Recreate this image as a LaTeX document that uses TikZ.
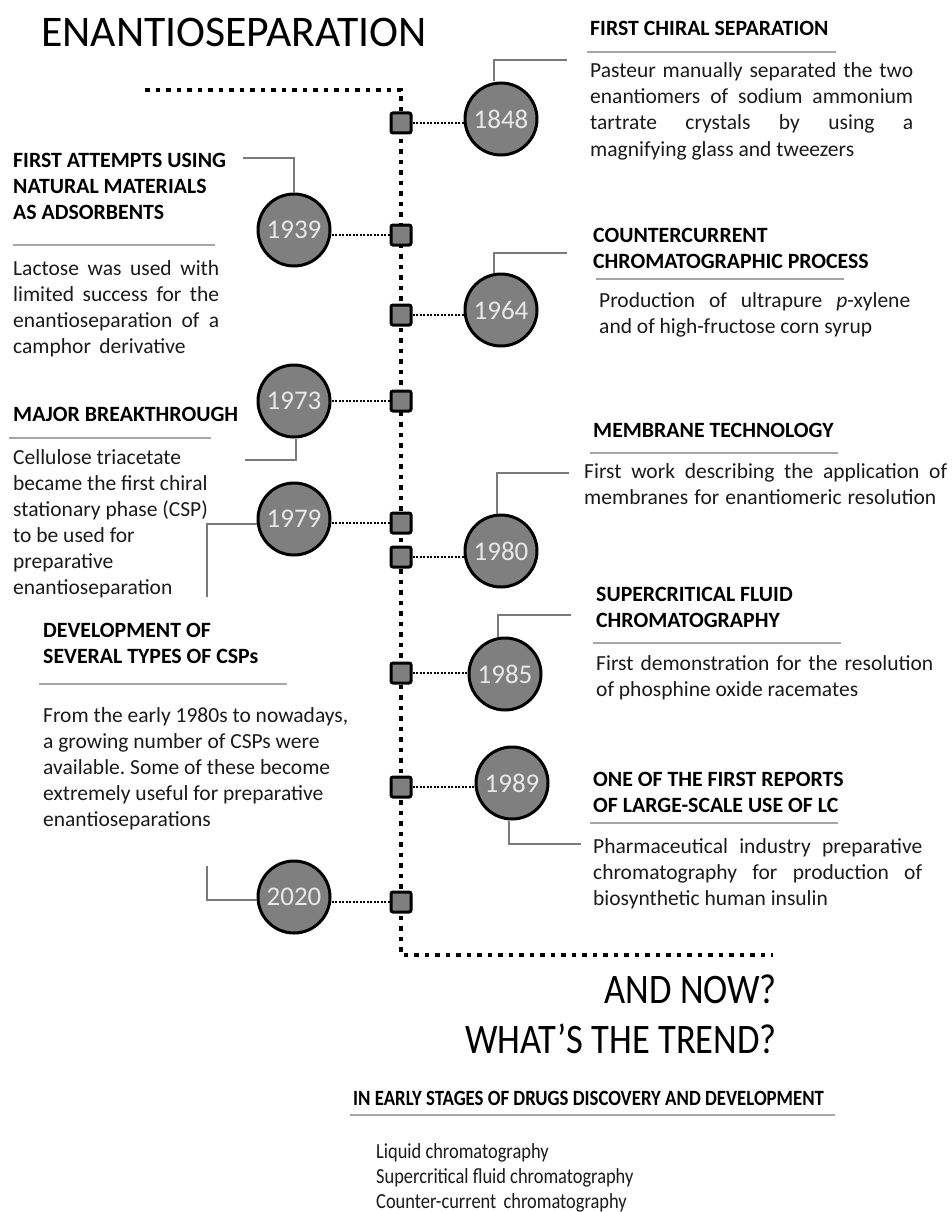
\documentclass[tikz,border=0pt]{standalone}
\usepackage{fontspec}
\setmainfont{Carlito}
\usepackage{graphicx}
\definecolor{yeargray}{HTML}{7F7F7F}
\definecolor{yeartext}{HTML}{E8E8E8}
\definecolor{calloutgray}{HTML}{7A7A7A}
\definecolor{rulegray}{HTML}{A6A6A6}
\definecolor{bodytext}{HTML}{1A1A1A}
\begin{document}
\begin{tikzpicture}[x=1pt,y=-1pt,
  spine/.style={line width=4.5pt, dash pattern=on 4.5pt off 6pt, black},
  dotlink/.style={line width=2pt, dash pattern=on 2pt off 1.5pt, black},
  yearc/.style={circle, draw=black, line width=3pt, fill=yeargray, minimum size=72pt, inner sep=0pt, text=yeartext, font=\fontsize{27}{30}\selectfont},
  marker/.style={rectangle, draw=black, line width=3pt, fill=yeargray, minimum size=20pt, inner sep=0pt, rounded corners=2pt},
  callout/.style={draw=calloutgray, line width=2.5pt},
  hrule/.style={draw=rulegray, line width=1.5pt},
  head/.style={anchor=base west, inner sep=0pt, text width=#1, align=justify, text=black, font=\bfseries\fontsize{21.8}{26}\selectfont\frenchspacing},
  head/.default=520pt,
  body/.style={anchor=base west, inner sep=0pt, text width=#1, align=justify, text=bodytext, font=\fontsize{21.5}{26}\selectfont\frenchspacing},
  body/.default=500pt,
  bigtitle/.style={inner sep=0pt, text=black, font=\fontsize{42}{50}\selectfont},
]
\useasboundingbox[fill=white] (0,0) rectangle (951,1212);

% spine
\coordinate (topL) at (145,90);
\coordinate (topR) at (401,90);
\coordinate (botL) at (401,955);
\coordinate (botR) at (773,955);
\draw[spine] (topL) -- (topR) -- (botL) -- (botR);

% markers
\node[marker] (m1848) at (401,123) {};
\node[marker] (m1939) at (401,235) {};
\node[marker] (m1964) at (401,315) {};
\node[marker] (m1973) at (401,401) {};
\node[marker] (m1979) at (401,523) {};
\node[marker] (m1980) at (401,557) {};
\node[marker] (m1985) at (401,673) {};
\node[marker] (m1989) at (401,787) {};
\node[marker] (m2020) at (401,902) {};

% year circles
\node[yearc] (c1848) at (501,119) {\raisebox{-2pt}{1848}};
\node[yearc] (c1939) at (294,230) {\raisebox{-2pt}{1939}};
\node[yearc] (c1964) at (501,310) {\raisebox{-2pt}{1964}};
\node[yearc] (c1973) at (294,401) {\raisebox{-2pt}{1973}};
\node[yearc] (c1979) at (294,519) {\raisebox{-2pt}{1979}};
\node[yearc] (c1980) at (501,551) {\raisebox{-2pt}{1980}};
\node[yearc] (c1985) at (505,674) {\raisebox{-2pt}{1985}};
\node[yearc] (c1989) at (512,783) {\raisebox{-2pt}{1989}};
\node[yearc] (c2020) at (294,897) {\raisebox{-2pt}{2020}};

% dotted links
\draw[dotlink] (m1848.east) -- (m1848 -| c1848.west);
\draw[dotlink] (m1939.west) -- (m1939 -| c1939.east);
\draw[dotlink] (m1964.east) -- (m1964 -| c1964.west);
\draw[dotlink] (m1973.west) -- (m1973 -| c1973.east);
\draw[dotlink] (m1979.west) -- (m1979 -| c1979.east);
\draw[dotlink] (m1980.east) -- (m1980 -| c1980.west);
\draw[dotlink] (m1985.east) -- (m1985 -| c1985.west);
\draw[dotlink] (m1989.east) -- (m1989 -| c1989.west);
\draw[dotlink] (m2020.west) -- (m2020 -| c2020.east);

% callout elbows
\coordinate (k1848) at (567,60);
\coordinate (k1939) at (243,158);
\coordinate (k1964) at (567,253);
\coordinate (k1973) at (245,460);
\coordinate (k1979) at (207,597);
\coordinate (k1980) at (569,473);
\coordinate (k1985) at (571,615);
\coordinate (k1989) at (581,844);
\coordinate (k2020) at (207,866);
\draw[callout] (494,0 |- c1848.north) |- (k1848);
\draw[callout] (c1939.north) |- (k1939);
\draw[callout] (494,0 |- c1964.north) |- (k1964);
\draw[callout] (296,0 |- c1973.south) |- (k1973);
\draw[callout] (c1979.west |- 0,524) -| (k1979);
\draw[callout] (497,0 |- c1980.north) |- (k1980);
\draw[callout] (498,0 |- c1985.north) |- (k1985);
\draw[callout] (509,0 |- c1989.south) |- (k1989);
\draw[callout] (c2020.west |- 0,900) -| (k2020);

% title
\node[bigtitle, anchor=base west, font=\fontsize{43.7}{50}\selectfont] (title) at (41,47) {ENANTIOSEPARATION};

% 1848
\node[head] (h1848) at (590,36) {FIRST CHIRAL SEPARATION};
\draw[hrule] (587,52) -- (836,52);
\node[body] (b1848) at (590,78) {\makebox[323pt][s]{Pasteur manually separated the two}\\
\makebox[323pt][s]{enantiomers of sodium ammonium}\\
\makebox[323pt][s]{tartrate crystals by using a}\\
magnifying glass and tweezers};

% 1939
\node[head] (h1939) at (13,167) {FIRST ATTEMPTS USING\\NATURAL MATERIALS\\AS ADSORBENTS};
\draw[hrule] (13,245) -- (215,245);
\node[body] (b1939) at (13,275) {\makebox[206pt][s]{Lactose was used with}\\
\makebox[206pt][s]{limited success for the}\\
\makebox[206pt][s]{enantioseparation of a}\\
camphor\, derivative};

% 1964
\node[head] (h1964) at (593,242) {COUNTERCURRENT\\CHROMATOGRAPHIC PROCESS};
\draw[hrule] (596,279) -- (844,279);
\node[body] (b1964) at (599,307) {\makebox[311pt][s]{Production of ultrapure \textit{p}-xylene}\\
and of high-fructose corn syrup};

% 1973
\node[head] (h1973) at (13,421) {MAJOR BREAKTHROUGH};
\draw[hrule] (9,438) -- (211,438);
\node[body] (b1973) at (13,464) {Cellulose triacetate\\became the first chiral\\stationary phase (CSP)\\to be used for\\preparative\\enantioseparation};

% 1980
\node[head] (h1980) at (593,437) {MEMBRANE TECHNOLOGY};
\draw[hrule] (590,453) -- (838,453);
\node[body] (b1980) at (584,478) {\makebox[363pt][s]{First work describing the application of}\\
\makebox[352pt][s]{membranes for enantiomeric resolution}};

% 1985
\node[head] (h1985) at (596,601) {SUPERCRITICAL FLUID\\CHROMATOGRAPHY};
\draw[hrule] (593,643) -- (841,643);
\node[body] (b1985) at (596,670) {\makebox[337pt][s]{First demonstration for the resolution}\\
of phosphine oxide racemates};

% development of CSPs
\node[head] (hdev) at (43,637) {DEVELOPMENT OF\\SEVERAL TYPES OF CSPs};
\draw[hrule] (39,684) -- (287,684);
\node[body] (bdev) at (43,722) {From the early 1980s to nowadays,\\a growing number of CSPs were\\available. Some of these become\\extremely useful for preparative\\enantioseparations};

% 1989
\node[head] (h1989) at (593,786) {ONE OF THE FIRST REPORTS\\OF LARGE-SCALE USE OF LC};
\draw[hrule] (590,823) -- (838,823);
\node[body] (b1989) at (593,853) {\makebox[329pt][s]{Pharmaceutical industry preparative}\\
\makebox[329pt][s]{chromatography for production of}\\
biosynthetic human insulin};

% and now
\node[bigtitle, anchor=base east] (now1) at (777,1003) {\scalebox{0.87}[1]{AND NOW?}};
\node[bigtitle, anchor=base east] (now2) at (777,1053) {\scalebox{0.87}[1]{WHAT’S THE TREND?}};

\node[head=600pt] (htrend) at (353,1105) {\scalebox{0.862}[1]{IN EARLY STAGES OF DRUGS DISCOVERY AND DEVELOPMENT}};
\draw[hrule] (350,1115) -- (835,1115);
\node[body] (btrend) at (376,1158) {\scalebox{0.856}[1]{\parbox[t]{400pt}{\fontsize{21.5}{25}\selectfont\raggedright\spaceskip=0pt\xspaceskip=0pt Liquid chromatography\\Supercritical fluid chromatography\\Counter-current\, chromatography}}};
\end{tikzpicture}
\end{document}
